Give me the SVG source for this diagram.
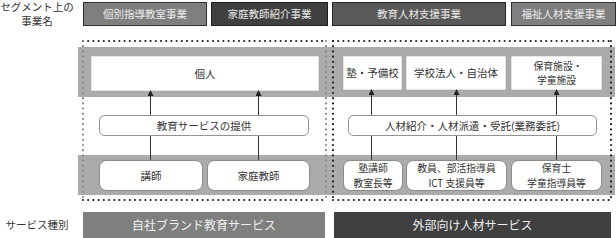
<svg xmlns="http://www.w3.org/2000/svg" width="616" height="238" viewBox="0 0 616 238">
<defs>
<marker id="ah" viewBox="0 0 8 8" refX="4" refY="4" markerWidth="6" markerHeight="6" orient="auto">
<path d="M0,0 L8,4 L0,8 z" fill="#222"/>
</marker>
<style>
text{font-family:"Noto Sans CJK JP","Noto Sans CJK SC",sans-serif;font-size:10.5px;fill:#333;text-anchor:middle}
.sm{font-size:9.8px}
.hd{fill:#ececec}
.bt{fill:#f0f0f0;font-size:12px}
.mid{fill:#7f7f7f;stroke:#2e2e2e;stroke-width:1}
.dk{fill:#404040;stroke:#1e1e1e;stroke-width:1}
.md2{fill:#595959;stroke:#262626;stroke-width:1}
.band{fill:#ababab}
.wb{fill:#fff;stroke:#9a9a9a;stroke-width:0.5}
.rb{fill:#fff;stroke:#777;stroke-width:0.8}
.dot{stroke:#222;stroke-width:2.2;stroke-linecap:round;stroke-dasharray:0 5.2;fill:none}
.dotg{stroke:#888;stroke-width:2.2;stroke-linecap:round;stroke-dasharray:0 5.2;fill:none}
.cn{stroke:#333;stroke-width:1;fill:none}
</style>
</defs>
<g id="side-labels">
<text x="37" y="10.5">セグメント上の</text>
<text x="37" y="25">事業名</text>
<text x="37" y="229">サービス種別</text>
</g>
<g id="header-1"><rect class="mid" x="83.5" y="2.5" width="123" height="23"/><text class="hd" x="145" y="18">個別指導教室事業</text></g>
<g id="header-2"><rect class="dk" x="211.5" y="2.5" width="116" height="23"/><text class="hd" x="269.5" y="18">家庭教師紹介事業</text></g>
<g id="header-3"><rect class="md2" x="332.5" y="2.5" width="173" height="23"/><text class="hd" x="419" y="18">教育人材支援事業</text></g>
<g id="header-4"><rect class="mid" x="511.5" y="2.5" width="104" height="23"/><text class="hd" x="563.5" y="18">福祉人材支援事業</text></g>
<g id="bands">
<rect class="band" x="78" y="47" width="252" height="50"/>
<rect class="band" x="330" y="47" width="285" height="50"/>
<rect class="band" x="78" y="155" width="252" height="40"/>
<rect class="band" x="330" y="155" width="285" height="40"/>
</g>
<g id="group-frames">
<line class="dot" x1="83" y1="41" x2="326" y2="41"/>
<line class="dot" x1="83" y1="200" x2="326" y2="200"/>
<line class="dotg" x1="83" y1="41" x2="83" y2="200"/>
<line class="dotg" x1="326" y1="41" x2="326" y2="200"/>
<line class="dot" x1="333" y1="41" x2="611" y2="41"/>
<line class="dot" x1="333" y1="200" x2="611" y2="200"/>
<line class="dot" x1="333" y1="41" x2="333" y2="200"/>
<line class="dot" x1="611" y1="41" x2="611" y2="200"/>
</g>
<g id="node-kojin"><rect class="wb" x="91" y="56" width="228" height="35"/><text x="205" y="77.5">個人</text></g>
<g id="node-juku"><rect class="wb" x="343" y="56" width="59" height="34"/><text x="372.5" y="77">塾・予備校</text></g>
<g id="node-gakko"><rect class="wb" x="406" y="56" width="100" height="34"/><text x="456" y="77">学校法人・自治体</text></g>
<g id="node-hoiku"><rect class="wb" x="511" y="56" width="91" height="34"/><text class="sm" x="558" y="69.5">保育施設・</text><text class="sm" x="556.5" y="84">学童施設</text></g>
<g id="node-kyoiku-service"><rect class="rb" x="99.5" y="115.5" width="209" height="20" rx="5"/><text x="204" y="129.5">教育サービスの提供</text></g>
<g id="node-jinzai"><rect class="rb" x="348.5" y="115.5" width="248" height="20" rx="5"/><text x="472.5" y="129.5">人材紹介・人材派遣・受託(業務委託)</text></g>
<g id="node-koshi"><rect class="rb" x="99.5" y="160.5" width="103" height="30" rx="7"/><text x="151" y="179.5">講師</text></g>
<g id="node-katei"><rect class="rb" x="207.5" y="160.5" width="102" height="30" rx="7"/><text x="258.5" y="179.5">家庭教師</text></g>
<g id="node-jukukoshi"><rect class="rb" x="343.5" y="160.5" width="59" height="30" rx="7"/><text class="sm" x="373" y="172">塾講師</text><text class="sm" x="373" y="186.5">教室長等</text></g>
<g id="node-kyoin"><rect class="rb" x="406.5" y="160.5" width="100" height="30" rx="7"/><text class="sm" x="456.5" y="172">教員、部活指導員</text><text class="sm" x="456.5" y="186.5">ICT 支援員等</text></g>
<g id="node-hoikushi"><rect class="rb" x="511.5" y="160.5" width="90" height="30" rx="7"/><text class="sm" x="556.5" y="172">保育士</text><text class="sm" x="556.5" y="186.5">学童指導員等</text></g>
<g id="footer-1"><rect fill="#7f7f7f" x="83" y="212" width="242" height="26"/><text class="bt" x="204" y="229.5">自社ブランド教育サービス</text></g>
<g id="footer-2"><rect fill="#404040" x="334" y="212" width="277" height="26"/><text class="bt" x="472.5" y="229.5">外部向け人材サービス</text></g>
<g id="connectors">
<line class="cn" x1="150.5" y1="115" x2="150.5" y2="93" marker-end="url(#ah)"/>
<line class="cn" x1="258.5" y1="115" x2="258.5" y2="93" marker-end="url(#ah)"/>
<line class="cn" x1="371.5" y1="115" x2="371.5" y2="92" marker-end="url(#ah)"/>
<line class="cn" x1="456.5" y1="115" x2="456.5" y2="92" marker-end="url(#ah)"/>
<line class="cn" x1="556.5" y1="115" x2="556.5" y2="92" marker-end="url(#ah)"/>
<line class="cn" x1="150.5" y1="160" x2="150.5" y2="136"/>
<line class="cn" x1="258.5" y1="160" x2="258.5" y2="136"/>
<line class="cn" x1="371.5" y1="160" x2="371.5" y2="136"/>
<line class="cn" x1="456.5" y1="160" x2="456.5" y2="136"/>
<line class="cn" x1="556.5" y1="160" x2="556.5" y2="136"/>
</g>
</svg>
